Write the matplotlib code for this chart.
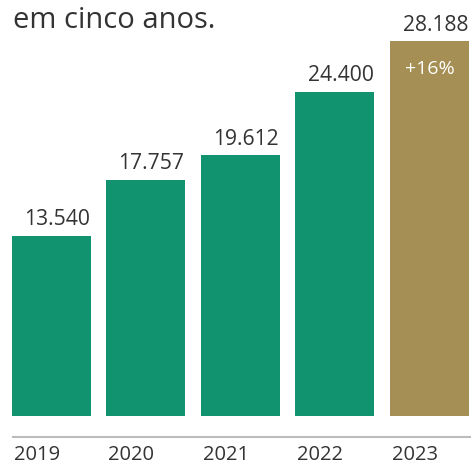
import matplotlib
matplotlib.use("Agg")
import matplotlib.pyplot as plt
from matplotlib.lines import Line2D

years = ["2019", "2020", "2021", "2022", "2023"]
values = [13540, 17757, 19612, 24400, 28188]
labels = ["13.540", "17.757", "19.612", "24.400", "28.188"]
colors = ["#11936f", "#11936f", "#11936f", "#11936f", "#a68f55"]
growth = "+16%"
title = "em cinco anos."

W, H = 472, 465
fig = plt.figure(figsize=(W / 100, H / 100), dpi=100)
plt.rcParams['font.family'] = ['Open Sans', 'DejaVu Sans']

scale = 0.01329
ax = fig.add_axes([0, (H - 416) / H, 1, 416 / H])
ax.set_xlim(-0.545, 4.45)
ax.set_ylim(0, 416 / scale)
ax.axis("off")

bw = 0.836
x = list(range(len(values)))
ax.bar(x, values, width=bw, color=colors)
for i, (v, lab) in enumerate(zip(values, labels)):
    ax.text(i + bw / 2 - 0.01, v + 420, lab, ha="right", va="bottom",
            fontsize=15.2, color="#333333")
    ax.text(i - bw / 2 + 0.02, -(455 - 416) / scale, years[i], ha="left",
            va="center", fontsize=14.5, color="#333333", clip_on=False)

ax.text(4, values[4] - 2100, growth, ha="center", va="center",
        fontsize=14, color="white")

fig.text(13 / W, 1 - 21 / H, title, ha="left", va="center",
         fontsize=21, color="#333333")

fig.add_artist(Line2D([13 / W, 470 / W], [1 - 437 / H, 1 - 437 / H],
                      color="#bbbbbb", linewidth=1.5))

fig.savefig("out.png", dpi=100)
